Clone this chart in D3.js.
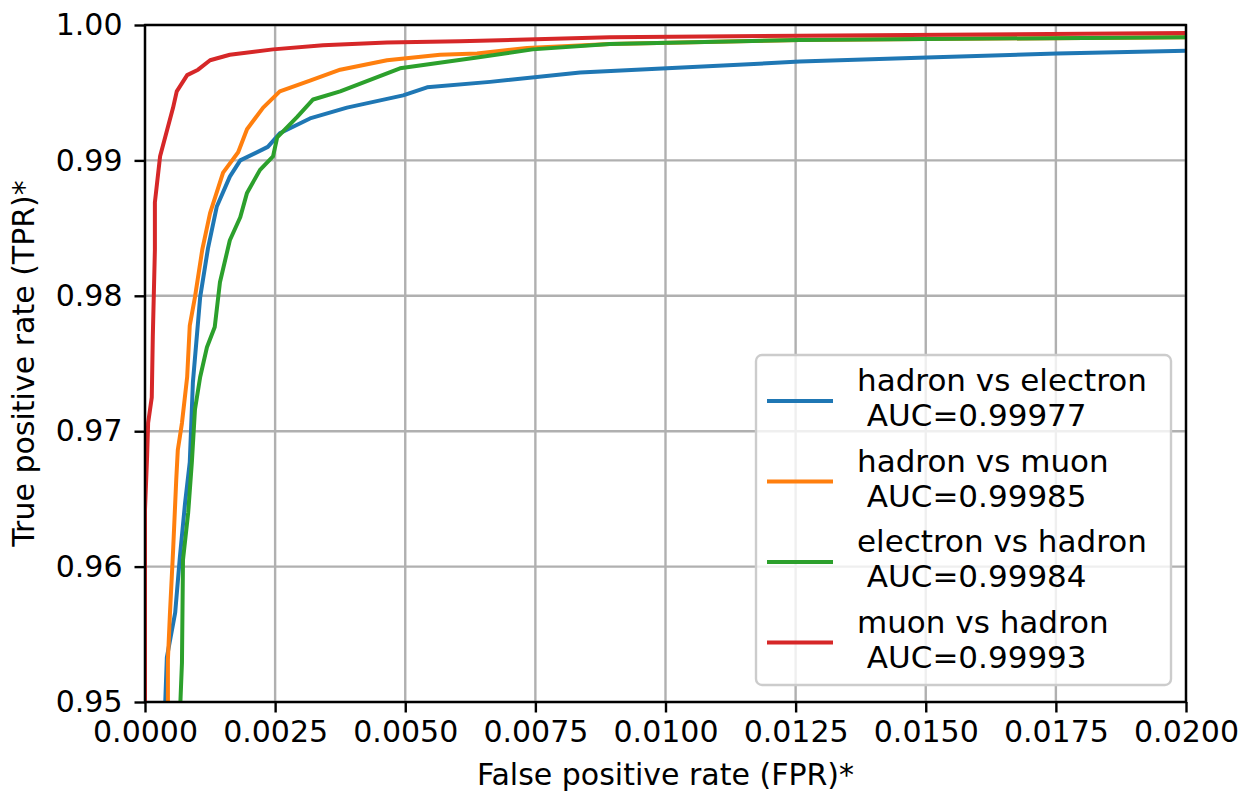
<!DOCTYPE html>
<html>
<head>
  <meta charset="UTF-8">
  <style>
    body {
      margin: 0;
      background: white;
      font-family: "DejaVu Sans", sans-serif;
    }
    svg text {
      font-family: "DejaVu Sans", sans-serif;
      fill: black;
    }
  </style>
</head>
<body>
  <svg id="chart"></svg>
  <script src="https://d3js.org/d3.v7.min.js"></script>
  <script>
    let width = 1244, height = 796;
    let margin = {left: 145, right: 58, top: 25, bottom: 94};

    // ROC points (FPR, TPR)
    let heFpr = [0.00038, 0.00042, 0.00058, 0.00067, 0.00077, 0.00086, 0.00092, 0.00106, 0.00121, 0.00138, 0.00163, 0.00183, 0.00236, 0.00259, 0.00317, 0.00388, 0.00496, 0.00542, 0.00663, 0.00836, 0.01003, 0.01258, 0.01502, 0.01752, 0.02];
    let heTpr = [0.949, 0.9533, 0.9566, 0.9607, 0.9647, 0.9677, 0.9736, 0.9799, 0.9835, 0.9866, 0.9888, 0.9900, 0.9910, 0.9920, 0.9931, 0.9939, 0.9948, 0.9954, 0.9958, 0.9965, 0.9968, 0.9973, 0.9976, 0.9979, 0.9981];

    let hmFpr = [0.00044, 0.00044, 0.00048, 0.00054, 0.00060, 0.00063, 0.00071, 0.00081, 0.00086, 0.00096, 0.00110, 0.00125, 0.00150, 0.00179, 0.00196, 0.00227, 0.00259, 0.00317, 0.00375, 0.00465, 0.00567, 0.00638, 0.00734, 0.00893, 0.01258, 0.02];
    let hmTpr = [0.949, 0.9531, 0.9566, 0.9612, 0.9664, 0.9686, 0.9706, 0.9740, 0.9778, 0.9799, 0.9834, 0.9861, 0.9891, 0.9906, 0.9923, 0.9939, 0.9951, 0.9959, 0.9967, 0.9974, 0.9978, 0.9979, 0.9983, 0.9986, 0.9989, 0.9991];

    let ehFpr = [0.00067, 0.00071, 0.00073, 0.00083, 0.00090, 0.00096, 0.00106, 0.00119, 0.00134, 0.00144, 0.00163, 0.00183, 0.00196, 0.00221, 0.00246, 0.00254, 0.00292, 0.00323, 0.00375, 0.00490, 0.00638, 0.00745, 0.00893, 0.01258, 0.02];
    let ehTpr = [0.949, 0.9529, 0.9605, 0.9640, 0.9677, 0.9716, 0.9740, 0.9762, 0.9777, 0.9810, 0.9841, 0.9858, 0.9876, 0.9893, 0.9903, 0.9917, 0.9932, 0.9945, 0.9951, 0.9968, 0.9976, 0.9982, 0.9986, 0.9989, 0.9991];

    let mhFpr = [0.0, 0.0, 0.00004, 0.00006, 0.00013, 0.00015, 0.00019, 0.00019, 0.00029, 0.00054, 0.00061, 0.00081, 0.00102, 0.00125, 0.00163, 0.00246, 0.00342, 0.00465, 0.00605, 0.00893, 0.01258, 0.02];
    let mhTpr = [0.949, 0.9642, 0.9681, 0.9706, 0.9725, 0.9770, 0.9834, 0.9869, 0.9903, 0.9939, 0.9951, 0.9963, 0.9967, 0.9974, 0.9978, 0.9982, 0.9985, 0.9987, 0.9988, 0.9991, 0.9992, 0.9994];

    let seriesNames = ["hadron vs electron", "hadron vs muon", "electron vs hadron", "muon vs hadron"];
    let aucValues = ["0.99977", "0.99985", "0.99984", "0.99993"];
    let colors = ["#1f77b4", "#ff7f0e", "#2ca02c", "#d62728"];

    let xTicks = [0, 0.0025, 0.005, 0.0075, 0.01, 0.0125, 0.015, 0.0175, 0.02];
    let yTicks = [0.95, 0.96, 0.97, 0.98, 0.99, 1.00];

    let series = [
      {fpr: heFpr, tpr: heTpr},
      {fpr: hmFpr, tpr: hmTpr},
      {fpr: ehFpr, tpr: ehTpr},
      {fpr: mhFpr, tpr: mhTpr}
    ];

    let svg = d3.select("#chart")
        .attr("width", width)
        .attr("height", height);

    let x = d3.scaleLinear().domain([0, 0.02]).range([margin.left, width - margin.right]);
    let y = d3.scaleLinear().domain([0.95, 1.0]).range([height - margin.bottom, margin.top]);

    svg.append("defs").append("clipPath")
        .attr("id", "plot-clip")
        .append("rect")
        .attr("x", margin.left)
        .attr("y", margin.top)
        .attr("width", width - margin.left - margin.right)
        .attr("height", height - margin.top - margin.bottom);

    // grid
    let grid = svg.append("g");
    grid.selectAll(".gx")
        .data(xTicks)
        .enter()
        .append("line")
        .attr("x1", d => x(d)).attr("x2", d => x(d))
        .attr("y1", y(0.95)).attr("y2", y(1.0))
        .attr("stroke", "#b0b0b0")
        .attr("stroke-width", 2.4);
    grid.selectAll(".gy")
        .data(yTicks)
        .enter()
        .append("line")
        .attr("y1", d => y(d)).attr("y2", d => y(d))
        .attr("x1", x(0)).attr("x2", x(0.02))
        .attr("stroke", "#b0b0b0")
        .attr("stroke-width", 2.4);

    // curves
    let line = d3.line()
        .x(d => x(d[0]))
        .y(d => y(d[1]));

    svg.append("g")
        .attr("clip-path", "url(#plot-clip)")
        .selectAll("path")
        .data(series)
        .enter()
        .append("path")
        .attr("d", d => line(d.fpr.map((f, i) => [f, d.tpr[i]])))
        .attr("fill", "none")
        .attr("stroke", (d, i) => colors[i])
        .attr("stroke-width", 4)
        .attr("stroke-linejoin", "round");

    // axes
    let xAxis = svg.append("g")
        .attr("transform", `translate(0, ${y(0.95)})`)
        .call(d3.axisBottom(x).tickValues(xTicks).tickFormat(d3.format(".4f")).tickSize(10.5).tickPadding(8));
    let yAxis = svg.append("g")
        .attr("transform", `translate(${x(0)}, 0)`)
        .call(d3.axisLeft(y).tickValues(yTicks).tickFormat(d3.format(".2f")).tickSize(10.5).tickPadding(12));

    [xAxis, yAxis].forEach(a => {
      a.select(".domain").remove();
      a.selectAll(".tick line").attr("stroke", "black").attr("stroke-width", 2.4);
      a.selectAll(".tick text").style("font-size", "30px");
    });

    // frame
    svg.append("rect")
        .attr("x", margin.left)
        .attr("y", margin.top)
        .attr("width", width - margin.left - margin.right)
        .attr("height", height - margin.top - margin.bottom)
        .attr("fill", "none")
        .attr("stroke", "black")
        .attr("stroke-width", 2.4);

    // axis labels
    svg.append("text")
        .attr("x", (margin.left + width - margin.right) / 2)
        .attr("y", 785)
        .attr("text-anchor", "middle")
        .style("font-size", "30px")
        .text("False positive rate (FPR)*");

    svg.append("text")
        .attr("transform", `translate(34, ${(margin.top + height - margin.bottom) / 2}) rotate(-90)`)
        .attr("text-anchor", "middle")
        .style("font-size", "30px")
        .text("True positive rate (TPR)*");

    // legend
    let legend = svg.append("g");
    legend.append("rect")
        .attr("x", 756)
        .attr("y", 355)
        .attr("width", 415)
        .attr("height", 330)
        .attr("rx", 6)
        .attr("fill", "white")
        .attr("fill-opacity", 0.8)
        .attr("stroke", "#cccccc")
        .attr("stroke-width", 2.4);

    let entries = legend.selectAll(".entry")
        .data(seriesNames)
        .enter()
        .append("g")
        .attr("transform", (d, i) => `translate(0, ${401 + i * 80.5})`);

    entries.append("line")
        .attr("x1", 767).attr("x2", 833)
        .attr("y1", 0).attr("y2", 0)
        .attr("stroke", (d, i) => colors[i])
        .attr("stroke-width", 4);

    entries.append("text")
        .attr("x", 857)
        .attr("y", -10)
        .style("font-size", "31px")
        .text(d => d);

    entries.append("text")
        .attr("x", 857)
        .attr("y", 25)
        .style("font-size", "31px")
        .style("white-space", "pre")
        .text((d, i) => " AUC=" + aucValues[i]);
  </script>
</body>
</html>
